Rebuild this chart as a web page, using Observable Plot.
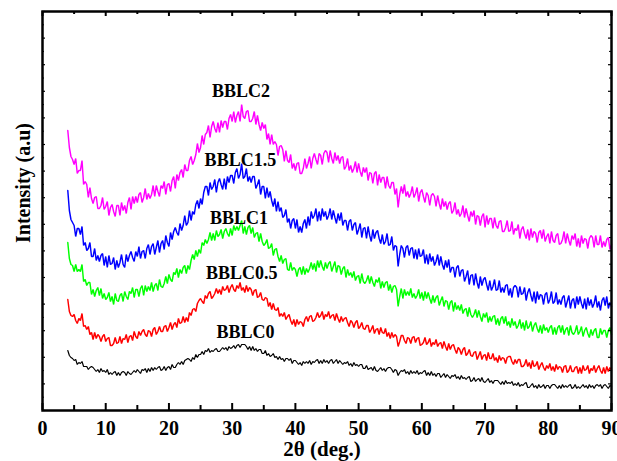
<!DOCTYPE html>
<html><head><meta charset="utf-8">
<script src="https://cdn.jsdelivr.net/npm/d3@7"></script>
<script src="https://cdn.jsdelivr.net/npm/@observablehq/plot@0.6"></script>
<style>html,body{margin:0;padding:0;background:#fff;overflow:hidden}</style>
</head><body><div id="chart"></div>
<script>
// 2θ sampling positions (deg), 0.25° apart, 4° … 90°
const twoTheta = d3.range(4, 90.001, 0.25);

const seriesNames = ["BBLC0", "BBLC0.5", "BBLC1", "BBLC1.5", "BBLC2"];
const seriesColors = ["#000000", "#ff0000", "#00ff00", "#0000ff", "#ff00ff"];

// intensities (a.u., offset as in the figure); each line = 2 degrees (8 samples)
const bblc2 = [
  280,263,254,251, 246,252,237,240,
  240,250,226,229, 226,213,223,212,
  207,213,214,202, 202,205,213,201,
  204,209,195,203, 206,199,194,205,
  205,195,208,200, 205,197,208,213,
  201,214,207,214, 208,216,218,208,
  213,222,211,217, 212,216,225,214,
  225,219,214,225, 222,229,216,226,
  227,219,230,234, 222,236,230,238,
  241,233,246,240, 240,250,254,246,
  250,256,267,258, 263,275,266,276,
  278,285,273,284, 289,282,278,288,
  278,290,283,289, 289,281,292,296,
  289,299,288,295, 299,289,306,294,
  292,299,300,289, 289,292,299,286,
  295,286,280,288, 282,286,271,277,
  266,276,266,269, 266,255,264,265,
  261,249,260,250, 248,256,242,247,
  240,247,248,237, 237,242,252,242,
  247,254,242,252, 257,251,246,257,
  255,246,257,260, 258,248,260,252,
  247,258,250,255, 247,253,254,241,
  244,252,240,245, 238,242,249,238,
  247,239,234,243, 238,243,230,238,
  237,227,237,239, 225,236,228,233,
  233,222,234,225, 222,228,228,216,
  222,203,216,224, 217,226,214,219,
  213,217,224,213, 217,223,209,218,
  221,214,208,218, 215,205,215,217,
  214,204,215,207, 201,212,204,209,
  201,207,209,197, 200,208,196,201,
  194,197,205,193, 202,195,189,199,
  194,200,186,195, 194,185,194,197,
  183,195,186,192, 192,182,193,185,
  182,189,190,179, 179,183,190,179,
  180,189,176,182, 180,186,172,181,
  184,177,172,181, 170,182,173,179,
  177,168,178,180, 172,181,169,174,
  177,167,179,170, 168,175,177,166,
  167,171,179,167, 177,170,165,175,
  171,177,164,172, 163,175,167,172,
  171,162,172,175, 173,163,175,166,
  166,175,163,169, 164,171,173,161,
  166
];
const bblc15 = [
  220,200,191,188, 185,174,182,182,
  176,184,165,168, 160,162,168,154,
  154,162,150,155, 149,155,157,145,
  154,143,155,146, 147,153,141,150,
  143,148,156,146, 143,156,149,155,
  159,153,149,159, 154,164,152,159,
  160,152,162,166, 156,164,167,156,
  163,170,158,167, 170,161,175,168,
  164,178,171,179, 183,178,175,187,
  180,185,195,185, 188,200,190,199,
  196,206,210,202, 212,206,218,224,
  224,215,228,221, 224,231,218,228,
  232,226,221,232, 221,234,228,235,
  235,227,238,242, 232,236,247,232,
  234,242,229,234, 228,234,234,222,
  226,231,216,224, 224,212,223,213,
  219,210,204,212, 199,209,199,203,
  193,195,201,188, 192,182,190,192,
  182,191,178,184, 178,187,191,182,
  194,185,199,192, 195,202,189,199,
  190,202,194,199, 191,195,202,191,
  200,193,187,197, 190,198,185,190,
  190,180,189,191, 180,186,188,176,
  181,187,173,182, 183,172,184,175,
  169,181,172,178, 180,172,167,176,
  166,169,177,165, 166,174,160,165,
  164,144,156,165, 162,153,163,165,
  155,162,163,152, 161,151,162,154,
  155,161,147,156, 146,157,149,154,
  145,149,156,145, 154,146,141,150,
  143,151,138,143, 143,133,143,145,
  134,140,141,129, 134,140,126,135,
  136,125,137,128, 122,134,125,131,
  133,126,120,130, 120,124,131,120,
  121,130,118,123, 118,125,126,115,
  122,113,123,125, 123,113,124,116,
  117,123,110,118, 122,115,109,119,
  107,119,111,116, 115,106,116,118,
  107,111,119,107, 109,118,106,111,
  106,113,115,103, 109,115,102,110,
  112,102,114,106, 114,107,102,112,
  101,113,105,111, 103,107,115,103,
  109,100,110,113, 105,114,102,108,
  104
];
const bblc1 = [
  168,152,146,145, 139,146,139,141,
  139,146,129,131, 125,128,128,116,
  121,114,120,123, 115,122,112,117,
  111,113,118,109, 114,106,117,110,
  109,115,117,109, 119,114,111,119,
  117,123,113,121, 121,114,122,125,
  115,125,119,124, 120,128,119,125,
  127,120,131,124, 123,127,134,127,
  136,131,129,138, 136,142,133,141,
  137,143,145,137, 145,141,150,156,
  151,160,154,161, 157,168,165,171,
  167,171,178,170, 177,170,180,174,
  176,181,172,179, 182,177,174,182,
  175,185,180,184, 180,185,190,177,
  184,176,183,185, 177,183,173,177,
  178,169,177,169, 165,167,171,162,
  163,167,155,161, 162,154,149,155,
  147,151,152,141, 140,148,140,143,
  141,134,141,143, 136,144,136,142,
  138,142,148,141, 147,139,150,143,
  150,144,140,148, 142,147,149,139,
  144,149,138,145, 144,136,142,144,
  133,141,135,138, 133,139,130,134,
  135,127,137,129, 127,130,135,127,
  134,128,124,131, 128,133,122,129,
  123,128,129,120, 126,118,124,125,
  121,104,114,122, 112,121,115,119,
  115,122,113,117, 112,115,121,112,
  118,110,119,112, 118,112,107,115,
  108,113,115,105, 110,114,104,110,
  109,101,108,110, 99,108,101,105,
  100,106,97,101, 102,94,103,96,
  93,96,101,93, 100,94,89,97,
  93,98,88,94, 89,94,95,86,
  92,85,92,94, 87,94,85,89,
  83,92,85,89, 82,85,91,82,
  88,80,90,82, 84,89,79,85,
  88,82,78,85, 77,86,80,83,
  78,83,85,76, 83,76,83,85,
  78,85,76,81, 83,75,85,78,
  76,79,85,76, 79,84,74,80,
  83,77,73,81, 75,80,82,73,
  73,82,76,80, 80,73,80,83,
  76
];
const bblc05 = [
  111,99,95,94, 96,90,87,92,
  90,97,84,85, 81,84,76,78,
  71,78,72,76, 74,69,74,76,
  69,72,73,65, 65,67,73,67,
  68,74,67,72, 71,76,68,74,
  75,70,79,74, 72,79,75,79,
  81,76,74,80, 79,74,81,83,
  76,79,84,79, 79,84,85,79,
  83,88,81,86, 88,83,92,87,
  88,94,88,93, 89,98,95,101,
  102,99,107,110, 112,109,107,115,
  112,117,119,112, 114,117,122,117,
  121,116,124,120, 121,125,118,123,
  126,121,119,125, 122,128,120,123,
  118,125,119,123, 121,115,120,121,
  113,114,118,111, 110,113,112,104,
  108,101,107,101, 100,103,94,97,
  94,98,91,94, 96,90,86,91,
  84,91,86,89, 88,84,91,94,
  89,94,95,89, 90,93,98,93,
  95,99,91,96, 94,99,92,95,
  96,90,97,92, 88,94,89,92,
  93,88,84,90, 88,83,88,90,
  82,84,88,82, 81,85,85,78,
  81,85,77,81, 82,76,83,78,
  77,82,74,78, 72,78,73,76,
  74,64,69,75, 75,70,67,73,
  72,67,73,74, 68,72,73,65,
  66,68,73,66, 68,72,64,68,
  66,71,64,67, 68,62,69,64,
  60,67,61,65, 66,61,57,63,
  61,56,61,63, 55,57,61,55,
  54,58,59,51, 55,59,51,55,
  56,50,58,52, 52,57,50,53,
  48,55,50,53, 52,47,53,54,
  54,49,46,51, 47,51,51,44,
  44,46,51,44, 48,42,50,44,
  45,49,41,45, 48,43,40,45,
  42,47,40,44, 39,46,41,44,
  43,38,44,45, 38,40,45,39,
  39,43,44,37, 43,37,45,40,
  41,45,37,42, 40,45,38,42,
  45,40,37,43, 37,44,39,43,
  40
];
const bblc0 = [
  60,55,53,52, 50,51,46,48,
  47,49,44,44, 44,41,43,44,
  43,41,39,41, 38,42,39,40,
  38,41,36,38, 36,38,39,35,
  38,35,38,39, 38,35,39,37,
  36,38,40,38, 41,39,37,41,
  40,42,38,42, 39,43,40,43,
  41,43,44,40, 41,44,40,43,
  44,41,46,43, 43,46,48,46,
  49,46,50,51, 52,51,49,53,
  51,56,53,56, 56,59,56,60,
  59,62,58,60, 59,61,62,59,
  59,61,63,61, 63,60,64,62,
  63,65,62,65, 66,63,66,66,
  66,64,61,64, 60,64,60,62,
  59,61,61,57, 57,60,55,57,
  54,55,57,53, 54,51,54,51,
  52,49,52,52, 50,52,47,50,
  50,48,46,48, 45,49,47,49,
  47,50,46,49, 48,50,51,47,
  50,47,51,48, 50,47,50,51,
  47,49,51,47, 50,48,46,48,
  47,49,45,47, 44,48,45,46,
  44,46,46,42, 42,45,41,42,
  43,40,44,40, 39,41,43,40,
  42,39,42,43, 43,41,38,41,
  40,35,38,40, 39,41,37,39,
  36,40,37,39, 37,40,36,38,
  37,39,40,35, 38,35,39,35,
  37,34,37,37, 33,35,37,33,
  36,34,32,35, 34,36,32,34,
  31,35,32,33, 31,33,34,29,
  30,33,29,31, 32,29,33,29,
  28,30,32,28, 30,27,30,30,
  30,28,26,29, 26,30,27,28,
  27,29,25,27, 25,28,24,26,
  25,27,28,23, 23,25,27,23,
  25,22,26,23, 24,26,22,25,
  25,22,25,26, 26,24,22,25,
  22,26,23,25, 23,25,26,22,
  23,26,22,24, 22,24,26,23,
  25,22,26,23, 25,22,25,26,
  24,26,22,25, 26,24,22,25,
  24
];
const seriesValues = [bblc0, bblc05, bblc1, bblc15, bblc2];

// curve label anchors (2θ, intensity)
const labelX = [32.1, 31.5, 31.1, 31.3, 31.4];
const labelY = [78, 137, 192, 250, 319];

const xTicks = [0, 10, 20, 30, 40, 50, 60, 70, 80, 90];
const xMinorTicks = [5, 15, 25, 35, 45, 55, 65, 75, 85];
const yTicks = d3.range(0, 399.1, 26.6);
const yMinorTicks = d3.range(13.3, 399, 26.6);

const xTitle = "2θ (deg.)";
const yTitle = "Intensity (a.u)";

const rows = seriesNames.flatMap((name, i) =>
  seriesValues[i].slice(0, twoTheta.length).map((v, j) => ({name, x: twoTheta[j], y: v})));
const labels = seriesNames.map((name, i) => ({name, x: labelX[i], y: labelY[i]}));

const font = "'Liberation Serif', 'Times New Roman', serif";
const yMax = 399, xMax = 90;
const pxPerX = (611 - 42) / 90;     // only used to express tick lengths in px
const tickX = (len) => len;         // y units are 1 px each
const tickY = (len) => len / pxPerX;

const chart = Plot.plot({
  width: 617,
  height: 461,
  marginTop: 11,
  marginBottom: 51,
  marginLeft: 42,
  marginRight: 6,
  style: {fontFamily: font, background: "#fff", overflow: "visible"},
  x: {domain: [0, xMax]},
  y: {domain: [0, yMax], axis: null},
  color: {domain: seriesNames, range: seriesColors},
  marks: [
    Plot.line(rows.filter(d => d.name === "BBLC0"), {x: "x", y: "y", stroke: "name", strokeWidth: 1.2, strokeLinejoin: "miter"}),
    Plot.line(rows.filter(d => d.name !== "BBLC0"), {x: "x", y: "y", z: "name", stroke: "name", strokeWidth: 1.45, strokeLinejoin: "miter"}),
    // inward ticks, bottom & top
    Plot.ruleX(xTicks, {x: d => d, y1: 0, y2: tickX(7), stroke: "black", strokeWidth: 2}),
    Plot.ruleX(xMinorTicks, {x: d => d, y1: 0, y2: tickX(5), stroke: "black", strokeWidth: 2}),
    Plot.ruleX(xTicks, {x: d => d, y1: yMax, y2: yMax - tickX(5), stroke: "black", strokeWidth: 2}),
    Plot.ruleX(xMinorTicks, {x: d => d, y1: yMax, y2: yMax - tickX(3), stroke: "black", strokeWidth: 2}),
    // inward ticks, left & right
    Plot.ruleY(yTicks, {y: d => d, x1: 0, x2: tickY(3), stroke: "black", strokeWidth: 1.2}),
    Plot.ruleY(yMinorTicks, {y: d => d, x1: 0, x2: tickY(2), stroke: "black", strokeWidth: 1}),
    Plot.ruleY(yTicks, {y: d => d, x1: xMax, x2: xMax - tickY(3), stroke: "black", strokeWidth: 1.2}),
    Plot.ruleY(yMinorTicks, {y: d => d, x1: xMax, x2: xMax - tickY(2), stroke: "black", strokeWidth: 1}),
    Plot.frame({stroke: "black", strokeWidth: 2.5}),
    Plot.axisX({ticks: xTicks, tickSize: 0, tickPadding: 10, label: null,
      fontSize: 20, fontWeight: "bold", fill: "black"}),
    Plot.text([xTitle], {frameAnchor: "bottom", dy: 39, dx: -5, lineAnchor: "middle", textAnchor: "middle",
      fontSize: 21, fontWeight: "bold", fill: "black"}),
    Plot.text([yTitle], {frameAnchor: "left", dx: -18.5, dy: -28, rotate: -90, lineAnchor: "middle",
      textAnchor: "middle", fontSize: 20, fontWeight: "bold", fill: "black"}),
    Plot.text(labels, {x: "x", y: "y", text: "name", lineAnchor: "middle", textAnchor: "middle",
      fontSize: 18, fontWeight: "bold", fill: "black"})
  ]
});
document.getElementById("chart").appendChild(chart);
</script>
</body></html>
